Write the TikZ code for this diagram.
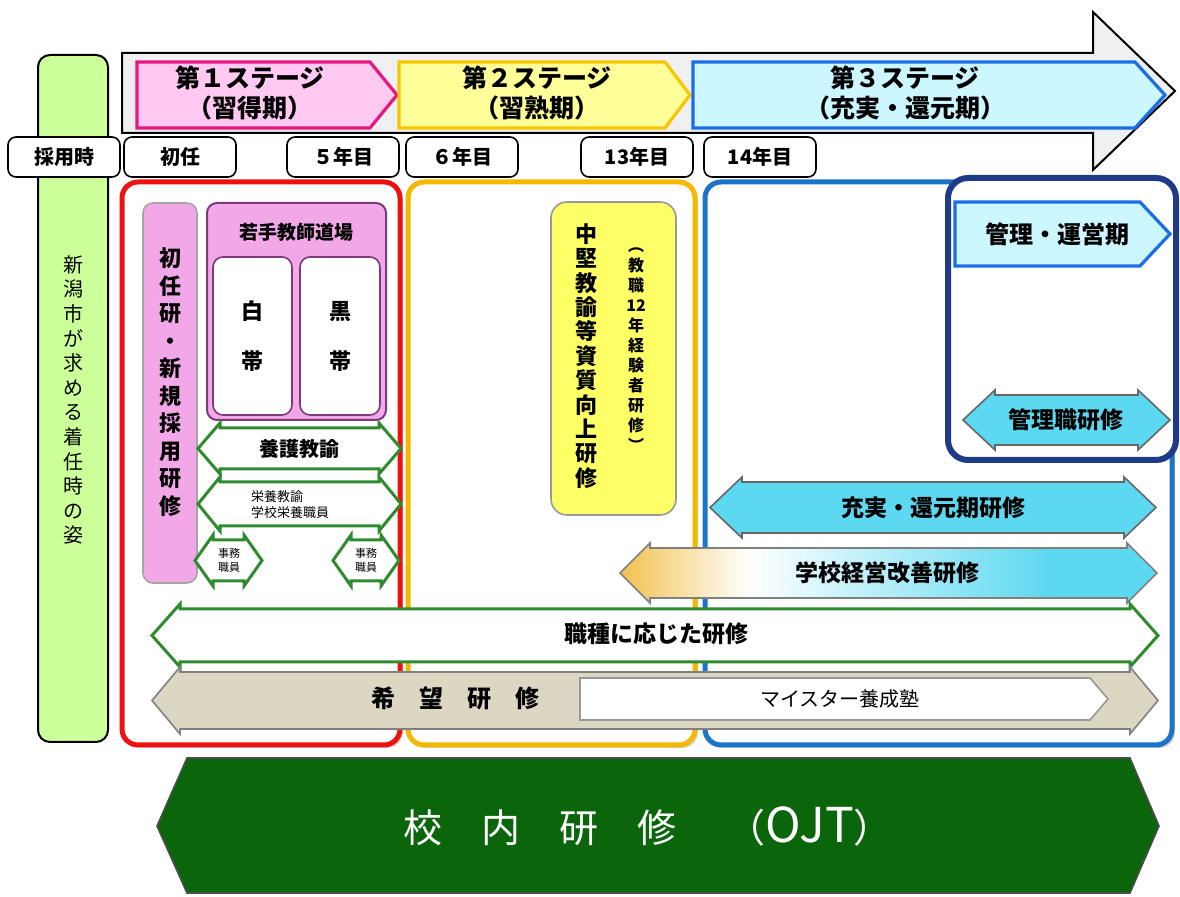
\documentclass[tikz,border=0pt]{standalone}
\usepackage{fontspec}
\setmainfont{Noto Sans CJK JP}
\usetikzlibrary{shadows}

\definecolor{pinkline}{HTML}{E6177F}
\definecolor{pinkfill}{HTML}{FFC9F2}
\definecolor{yellowline}{HTML}{F7C600}
\definecolor{yellowfill}{HTML}{FFFF99}
\definecolor{blueline}{HTML}{1A6EE8}
\definecolor{cyanfill}{HTML}{CCF7FF}
\definecolor{greenfill}{HTML}{CCFF99}
\definecolor{redframe}{HTML}{EE1111}
\definecolor{goldframe}{HTML}{F5B800}
\definecolor{blueframe}{HTML}{1B74C9}
\definecolor{navyframe}{HTML}{1F3A87}
\definecolor{violetpink}{HTML}{F2A7E8}
\definecolor{purpleline}{HTML}{7B3B7B}
\definecolor{yellowbox}{HTML}{FFFF66}
\definecolor{arrowgreen}{HTML}{2E8B2E}
\definecolor{cyanarrow}{HTML}{5CD8F0}
\definecolor{beigefill}{HTML}{DCD7C3}
\definecolor{ojtgreen}{HTML}{0B660B}
\definecolor{kgold}{HTML}{F2C14E}

\pgfdeclarehorizontalshading{kaizen}{100bp}{color(0bp)=(kgold); color(25bp)=(kgold); color(37bp)=(white); color(65bp)=(cyanarrow); color(100bp)=(cyanarrow)}

% double arrow: style, left tip, right tip, top, bottom, head length
\newcommand{\dblarrow}[6]{%
  \draw[#1] (#2,{(#4+#5)/2}) -- (#2+#6,#4) -- (#2+#6,#4+5) -- (#3-#6,#4+5) -- (#3-#6,#4)
    -- (#3,{(#4+#5)/2}) -- (#3-#6,#5) -- (#3-#6,#5-5) -- (#2+#6,#5-5) -- (#2+#6,#5) -- cycle;}

\tikzset{
  yearbox/.style={draw, line width=0.8pt, fill=white, rounded corners=4pt,
    minimum width=56pt, minimum height=20pt, inner sep=0pt, font=\bfseries\fontsize{10}{12}\selectfont},
  stagetext/.style={align=center, inner sep=0pt, font=\bfseries\fontsize{12.5}{15}\selectfont},
  tate/.style={align=center, inner sep=0pt},
  greenarrow/.style={draw=arrowgreen, line width=1.5pt, fill=white},
  cyanarrowstyle/.style={draw=black!60, line width=0.8pt, fill=cyanarrow},
  kaizenarrow/.style={draw=black!50, line width=0.8pt, shading=kaizen},
  beigearrow/.style={draw=black!50, line width=0.8pt, fill=beigefill},
  label/.style={inner sep=0pt, font=\bfseries\fontsize{11.5}{13}\selectfont},
  frame/.style={line width=2.5pt, fill=white, rounded corners=8pt,
    drop shadow={shadow xshift=1.5pt, shadow yshift=-1.5pt, opacity=.35}},
}

\begin{document}
\begin{tikzpicture}[x=0.5pt, y=-0.5pt]
    \useasboundingbox[fill=white] (0,0) rectangle (1180,897);

    % timeline
    \draw[line width=1pt, fill=gray!12] (122,53) -- (1093,53) -- (1093,12) -- (1175,91)
        -- (1093,170) -- (1093,133) -- (122,133) -- cycle;

    % stages
    \draw[line width=1.6pt, draw=pinkline, fill=pinkfill] (137,62) -- (370,62) -- (397,95) -- (370,128) -- (137,128) -- cycle;
    \draw[line width=1.6pt, draw=yellowline, fill=yellowfill] (399,62) -- (665,62) -- (690,95) -- (665,128) -- (399,128) -- cycle;
    \draw[line width=1.6pt, draw=blueline, fill=cyanfill] (693,62) -- (1135,62) -- (1165,95) -- (1135,128) -- (693,128) -- cycle;
    \node[stagetext] (st1) at (250,93) {第１ステージ\\（習得期）};
    \node[stagetext] (st2) at (537,93) {第２ステージ\\（習熟期）};
    \node[stagetext] (st3) at (905,93) {第３ステージ\\（充実・還元期）};

    % left column
    \draw[line width=1pt, fill=greenfill, rounded corners=6pt] (38,55) rectangle (108,742);
    \node[tate, font=\fontsize{10}{12.3}\selectfont] (sugata) at (73,400)
        {新\\潟\\市\\が\\求\\め\\る\\着\\任\\時\\の\\姿};

    % years
    \node[yearbox] (saiyo) at (64,157) {採用時};
    \node[yearbox] (shonin) at (180,157) {初任};
    \node[yearbox] (y5) at (343,157) {５年目};
    \node[yearbox] (y6) at (462,157) {６年目};
    \node[yearbox] (y13) at (637,157) {13年目};
    \node[yearbox] (y14) at (760,157) {14年目};

    % stage frames
    \draw[frame, draw=redframe] (122,182) rectangle (400,745);
    \draw[frame, draw=goldframe] (408,182) rectangle (695,745);
    \draw[frame, draw=blueframe] (705,182) rectangle (1172,745);

    % stage 1
    \draw[line width=0.8pt, draw=gray!70, fill=violetpink, rounded corners=5pt] (143,203) rectangle (197,583);
    \node[tate, font=\bfseries\fontsize{11}{13.75}\selectfont] (shoninken) at (170,382)
        {初\\任\\研\\・\\新\\規\\採\\用\\研\\修};
    \draw[line width=1pt, draw=purpleline, fill=violetpink, rounded corners=5pt] (207,203) rectangle (386,420);
    \node[inner sep=0pt, font=\bfseries\fontsize{9.5}{11}\selectfont] (dojo) at (296,232) {若手教師道場};
    \draw[line width=0.8pt, draw=purpleline, fill=white, rounded corners=5pt] (213,257) rectangle (292,415);
    \draw[line width=0.8pt, draw=purpleline, fill=white, rounded corners=5pt] (300,257) rectangle (380,415);
    \node[tate, font=\bfseries\fontsize{11}{25}\selectfont] (shiro) at (252,336) {白\\帯};
    \node[tate, font=\bfseries\fontsize{11}{25}\selectfont] (kuro) at (340,336) {黒\\帯};

    \dblarrow{greenarrow}{198}{401}{423}{474}{22}
    \node[label, font=\bfseries\fontsize{10}{12}\selectfont] (yogo) at (299,449) {養護教諭};
    \dblarrow{greenarrow}{198}{401}{477}{531}{22}
    \node[align=left, inner sep=0pt, font=\fontsize{6.5}{8}\selectfont] (eiyo) at (290,505) {栄養教諭\\学校栄養職員};
    \dblarrow{greenarrow}{195}{262}{535}{586}{18}
    \node[tate, font=\fontsize{5.5}{7}\selectfont] (jimu1) at (229,560) {事務\\職員};
    \dblarrow{greenarrow}{333}{399}{535}{586}{18}
    \node[tate, font=\fontsize{5.5}{7}\selectfont] (jimu5) at (366,560) {事務\\職員};

    % stage 2
    \draw[line width=0.8pt, draw=gray!80, fill=yellowbox, rounded corners=8pt] (551,202) rectangle (676,515);
    \node[tate, font=\bfseries\fontsize{11}{12.2}\selectfont] (chuken) at (586,356)
        {中\\堅\\教\\諭\\等\\資\\質\\向\\上\\研\\修};
    \node[tate, font=\bfseries\fontsize{8}{10}\selectfont] (kyoshoku) at (636,350)
        {︵\\教\\職\\12\\年\\経\\験\\者\\研\\修\\︶};

    % stage 3
    \draw[line width=3pt, draw=navyframe, fill=white, rounded corners=10pt] (948,178) rectangle (1176,460);
    \draw[line width=1.6pt, draw=blueline, fill=cyanfill] (955,202) -- (1140,202) -- (1170,234) -- (1140,266) -- (955,266) -- cycle;
    \node[inner sep=0pt, font=\bfseries\fontsize{12}{14}\selectfont] (unei) at (1057,234) {管理・運営期};
    \dblarrow{cyanarrowstyle}{963}{1170}{390}{450}{32}
    \node[label] (kanrishoku) at (1066,420) {管理職研修};

    \dblarrow{cyanarrowstyle}{710}{1156}{477}{538}{32}
    \node[label] (jujitsu) at (933,508) {充実・還元期研修};
    \dblarrow{kaizenarrow}{620}{1157}{543}{603}{30}
    \node[label] (kaizen) at (887,573) {学校経営改善研修};

    % across all stages
    \dblarrow{greenarrow}{152}{1158}{604}{667}{28}
    \node[label] (shokushu) at (656,634) {職種に応じた研修};
    \dblarrow{beigearrow}{152}{1158}{667}{734}{28}
    \node[label, font=\bfseries\fontsize{12}{14}\selectfont] (kibo) at (455,698) {希　望　研　修};
    \draw[line width=0.8pt, draw=gray!80, fill=white] (580,678) -- (1090,678) -- (1108,699) -- (1090,720) -- (580,720) -- cycle;
    \node[inner sep=0pt, font=\fontsize{10}{12}\selectfont] (meister) at (840,699) {マイスター養成塾};

    % OJT
    \draw[line width=0.8pt, draw=black!70, fill=ojtgreen] (157,826) -- (187,758) -- (1130,758) -- (1159,826)
        -- (1130,893) -- (187,893) -- cycle;
    \node[inner sep=0pt, text=white, font=\fontsize{19.5}{22}\selectfont] (ojt) at (648,826)
        {校　内　研　修\hspace{1.3em}（{\fontsize{24}{26}\selectfont OJT}）};

\end{tikzpicture}
\end{document}
